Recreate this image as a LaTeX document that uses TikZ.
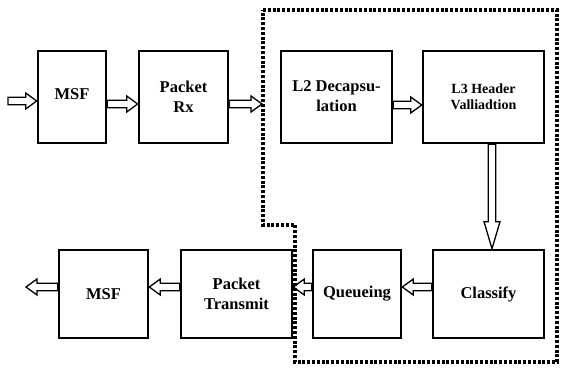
\documentclass[tikz,border=0pt]{standalone}
\usepackage{fontspec}
\setmainfont{Liberation Serif}
\usetikzlibrary{calc}
\tikzset{
  blk/.style={draw, line width=2.6pt, inner sep=0pt, align=center,
    font=\fontsize{16.5}{20}\selectfont\bfseries},
  hollow/.style={draw, line width=1.3pt, fill=white, to path={
    let \p1=(\tikztostart), \p2=(\tikztotarget),
        \n1={atan2(\y2-\y1,\x2-\x1)}, \n2={veclen(\x2-\x1,\y2-\y1)} in
    {[shift={(\p1)}, rotate=\n1]
      (0pt,-3.8pt) -- ({(\n2-#1)*1pt},-3.8pt) -- ({(\n2-#1)*1pt},-8pt)
      -- ({\n2*1pt},0pt) -- ({(\n2-#1)*1pt},8pt) -- ({(\n2-#1)*1pt},3.8pt)
      -- (0pt,3.8pt) -- cycle}
  }},
  hollow/.default=11,
  boundary/.style={draw, line width=3.5pt, dash pattern=on 3pt off 1.8pt}
}
\begin{document}
\begin{tikzpicture}[x=1pt,y=-1pt]
\useasboundingbox (0,0) rectangle (564,369);
% top row
\node[blk, minimum width=68pt, minimum height=92pt] (msf1) at (72,97) {\raisebox{5pt}{MSF}};
\node[blk, minimum width=89pt, minimum height=92pt] (rx) at (183.5,97) {Packet\\Rx};
\node[blk, minimum width=111pt, minimum height=92pt] (l2) at (336.5,97) {\raisebox{7pt}{\begin{tabular}{@{}c@{}}L2 Decapsu-\\lation\end{tabular}}};
\node[blk, minimum width=121pt, minimum height=92pt, font=\fontsize{14}{16}\selectfont\bfseries] (l3) at (483.5,97) {L3 Header\\Valliadtion};
% bottom row
\node[blk, minimum width=89pt, minimum height=88pt] (msf2) at (103.5,294) {MSF};
\node[blk, minimum width=111pt, minimum height=88pt] (tx) at (236.5,294) {Packet\\Transmit};
\node[blk, minimum width=88pt, minimum height=88pt] (q) at (357,294) {Queueing};
\node[blk, minimum width=111pt, minimum height=88pt] (cl) at (488.5,294) {Classify};
% free ends
\coordinate (in) at (8,101);
\coordinate (rxend) at (262,104);
\coordinate (out) at (26,287);
% connectors
\draw[hollow] (in) to ([yshift=-4pt]msf1.west);
\draw[hollow] ([yshift=-7pt]msf1.east) to ([yshift=-7pt]rx.west);
\draw[hollow] ([yshift=-7pt]rx.east) to (rxend);
\draw[hollow] ([yshift=-8pt]l2.east) to ([yshift=-8pt]l3.west);
\draw[hollow=27] ([xshift=8.5pt]l3.south) to ([xshift=3.5pt]cl.north);
\draw[hollow] ([yshift=7pt]cl.west) to ([yshift=7pt]q.east);
\draw[hollow] ([yshift=7pt]q.west) to ([yshift=7pt]tx.east);
\draw[hollow] ([yshift=7pt]tx.west) to ([yshift=7pt]msf2.east);
\draw[hollow] ([yshift=7pt]msf2.west) to (out);
% dotted boundary
\draw[boundary] (263,10) -- (557,10) -- (557,362) -- (295,362) -- (295,225) -- (263,225) -- cycle;
\end{tikzpicture}
\end{document}
